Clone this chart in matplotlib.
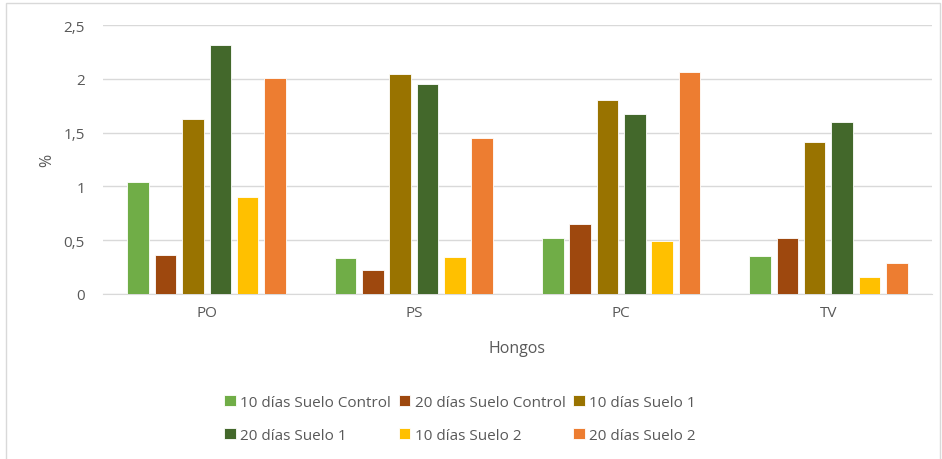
import numpy as np
import matplotlib.pyplot as plt
from matplotlib.patches import Rectangle

plt.rcParams['font.family'] = ['Open Sans', 'DejaVu Sans']

hongos = ['PO', 'PS', 'PC', 'TV']
series = ['10 días Suelo Control', '20 días Suelo Control', '10 días Suelo 1',
          '20 días Suelo 1', '10 días Suelo 2', '20 días Suelo 2']
d10_control = [1.04, 0.33, 0.52, 0.35]
d20_control = [0.36, 0.22, 0.65, 0.52]
d10_suelo1 = [1.63, 2.04, 1.80, 1.41]
d20_suelo1 = [2.31, 1.95, 1.67, 1.60]
d10_suelo2 = [0.90, 0.34, 0.49, 0.16]
d20_suelo2 = [2.01, 1.45, 2.06, 0.29]
colors = ['#70AD47', '#9E480E', '#997300', '#43682B', '#FFC000', '#ED7D31']

values = [d10_control, d20_control, d10_suelo1, d20_suelo1, d10_suelo2, d20_suelo2]

fig = plt.figure(figsize=(9.42, 4.6), dpi=100)
ax = fig.add_axes([103 / 942, 1 - 295 / 460, 829 / 942, 269 / 460])

x = np.arange(len(hongos))
step = 0.132
width = 0.104
bars = []
for i, (vals, name, c) in enumerate(zip(values, series, colors)):
    b = ax.bar(x + (i - 2.5) * step, vals, width=width, color=c, label=name,
               edgecolor='white', linewidth=0.6, zorder=3)
    bars.append(b)

ax.set_xlim(-0.5, 3.5)
ax.set_ylim(0, 2.5)
ax.set_yticks([0, 0.5, 1, 1.5, 2, 2.5])
ax.set_yticklabels(['0', '0,5', '1', '1,5', '2', '2,5'])
ax.set_xticks(x)
ax.set_xticklabels(hongos)
ax.tick_params(length=0, labelsize=11, colors='#595959', pad=8)
ax.tick_params(axis='y', pad=13)
ax.grid(axis='y', color='#D9D9D9', linewidth=1, zorder=0)
for s in ['top', 'right', 'left']:
    ax.spines[s].set_visible(False)
ax.spines['bottom'].set_color('#D9D9D9')

ax.set_ylabel('%', fontsize=11.5, color='#595959', labelpad=6)
ax.set_xlabel('Hongos', fontsize=11.5, color='#595959', labelpad=14)

# legend fills row by row: reorder for matplotlib's column-major layout
order = [0, 3, 1, 4, 2, 5]
fig.legend([bars[i] for i in order], [series[i] for i in order],
           loc='center', bbox_to_anchor=(460 / 942, 1 - 420 / 460), ncol=3,
           frameon=False, fontsize=11, labelcolor='#595959',
           handlelength=0.75, handleheight=0.75, handletextpad=0.3,
           columnspacing=0.5, labelspacing=1.15)

fig.patches.append(Rectangle((6 / 942, -0.1), 934 / 942, 1.1 - 4 / 460,
                             transform=fig.transFigure, fill=False,
                             edgecolor='#D9D9D9', linewidth=1))

fig.savefig('out.png', dpi=100)
